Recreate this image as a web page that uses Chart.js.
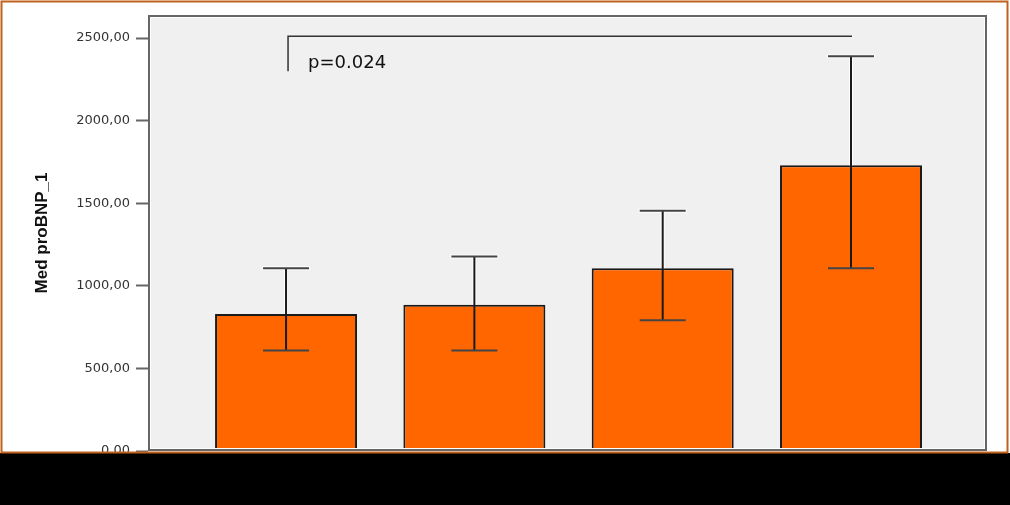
<!DOCTYPE html>
<html>
<head>
<meta charset="utf-8">
<script src="https://cdn.jsdelivr.net/npm/chart.js@4/dist/chart.umd.min.js"></script>
<style>
  html, body { margin: 0; padding: 0; background: #fff; }
  canvas { display: block; }
</style>
</head>
<body>
<canvas id="chart" width="1010" height="505"></canvas>
<script>
// values
const groups = [1, 2, 3, 4];
const medians = [830, 885, 1107, 1730];
const errLow = [609, 609, 791, 1107];
const errHigh = [1107, 1178, 1454, 2390];
const yTicks = [0, 500, 1000, 1500, 2000, 2500];
const yTitle = 'Med proBNP_1';

// significance bracket between group 1 and 4
const sigPair = [1, 4];
const sigTop = 2512;
const sigBottom = 2300;
const sigLabel = 'p=0.024';

const fmt = v => v.toFixed(2).replace('.', ',');

// frame, outer border, black band at the bottom
const decor = {
    id: 'decor',
    beforeDraw(chart) {
        const ctx = chart.ctx;
        const a = chart.chartArea;
        ctx.save();
        ctx.fillStyle = '#f0f0f0';
        ctx.fillRect(a.left, a.top, a.right - a.left, a.bottom - a.top);
        ctx.restore();
    },
    afterDatasetsDraw(chart) {
        const ctx = chart.ctx;
        const a = chart.chartArea;
        const x = chart.scales.x;
        const y = chart.scales.y;
        ctx.save();

        // error bars
        groups.forEach((g, i) => {
            const px = x.getPixelForValue(g);
            const top = y.getPixelForValue(errHigh[i]);
            const bot = y.getPixelForValue(errLow[i]);
            const barTop = y.getPixelForValue(medians[i]);
            // light halo above the bar
            ctx.strokeStyle = 'rgba(255,255,255,0.9)';
            ctx.lineWidth = 4;
            ctx.beginPath();
            ctx.moveTo(px, top);
            ctx.lineTo(px, barTop);
            ctx.moveTo(px - 24, top);
            ctx.lineTo(px + 24, top);
            ctx.stroke();

            ctx.strokeStyle = '#1a1a1a';
            ctx.lineWidth = 2;
            ctx.beginPath();
            ctx.moveTo(px, top);
            ctx.lineTo(px, bot);
            ctx.stroke();
            ctx.strokeStyle = '#444';
            ctx.beginPath();
            ctx.moveTo(px - 23, top);
            ctx.lineTo(px + 23, top);
            ctx.moveTo(px - 23, bot);
            ctx.lineTo(px + 23, bot);
            ctx.stroke();
        });

        // bracket + p value
        const x1 = x.getPixelForValue(sigPair[0]) + 2;
        const x2 = x.getPixelForValue(sigPair[1]) + 1;
        const yt = y.getPixelForValue(sigTop);
        const yb = y.getPixelForValue(sigBottom);
        ctx.strokeStyle = '#333';
        ctx.lineWidth = 1.5;
        ctx.beginPath();
        ctx.moveTo(x1, yb);
        ctx.lineTo(x1, yt);
        ctx.lineTo(x2, yt);
        ctx.stroke();
        ctx.fillStyle = '#111';
        ctx.font = '18px "DejaVu Sans", sans-serif';
        ctx.textBaseline = 'alphabetic';
        ctx.fillText(sigLabel, x1 + 20, yb - 3);

        // plot frame
        ctx.strokeStyle = '#fff';
        ctx.lineWidth = 1;
        ctx.strokeRect(a.left + 2.5, a.top + 2.5, a.right - a.left - 5, a.bottom - a.top - 5);
        ctx.strokeStyle = '#666';
        ctx.lineWidth = 2;
        ctx.strokeRect(a.left + 1, a.top + 1, a.right - a.left - 2, a.bottom - a.top - 2);
        ctx.restore();
    },
    afterDraw(chart) {
        const ctx = chart.ctx;
        ctx.save();
        ctx.fillStyle = '#000';
        ctx.fillRect(0, 453, chart.width, chart.height - 453);
        ctx.strokeStyle = '#c0621e';
        ctx.lineWidth = 2;
        ctx.strokeRect(1.5, 1.5, 1006, 451);
        ctx.restore();
    }
};

new Chart(document.getElementById('chart'), {
    type: 'bar',
    data: {
        datasets: [{
            data: groups.map((g, i) => ({ x: g, y: medians[i] })),
            backgroundColor: '#ff6600',
            borderColor: '#1a1a1a',
            borderWidth: 2,
            borderSkipped: 'bottom',
            categoryPercentage: 1,
            barPercentage: 0.754
        }]
    },
    options: {
        responsive: false,
        animation: false,
        layout: { padding: { left: 0, top: 15, right: 23, bottom: 54 } },
        plugins: { legend: { display: false }, tooltip: { enabled: false } },
        scales: {
            x: {
                type: 'linear',
                min: 0.267,
                max: 4.722,
                bounds: 'data',
                offset: false,
                grid: { offset: false },
                afterBuildTicks: s => { s.ticks = groups.map(v => ({ value: v })); },
                display: false
            },
            y: {
                min: 0,
                max: 2640,
                afterBuildTicks: s => { s.ticks = yTicks.map(v => ({ value: v })); },
                afterFit: s => { s.width = 148; },
                border: { display: false },
                grid: {
                    drawOnChartArea: false,
                    tickLength: 12,
                    tickColor: '#666',
                    tickWidth: 2
                },
                ticks: {
                    padding: 6,
                    color: '#333',
                    font: { family: '"DejaVu Sans", sans-serif', size: 13 },
                    callback: v => fmt(v)
                },
                title: {
                    display: true,
                    text: yTitle,
                    color: '#111',
                    padding: { top: 32, bottom: 0 },
                    font: { family: '"Liberation Sans Narrow", "Arial Narrow", sans-serif', size: 17, weight: 'bold' }
                }
            }
        }
    },
    plugins: [decor]
});
</script>
</body>
</html>
